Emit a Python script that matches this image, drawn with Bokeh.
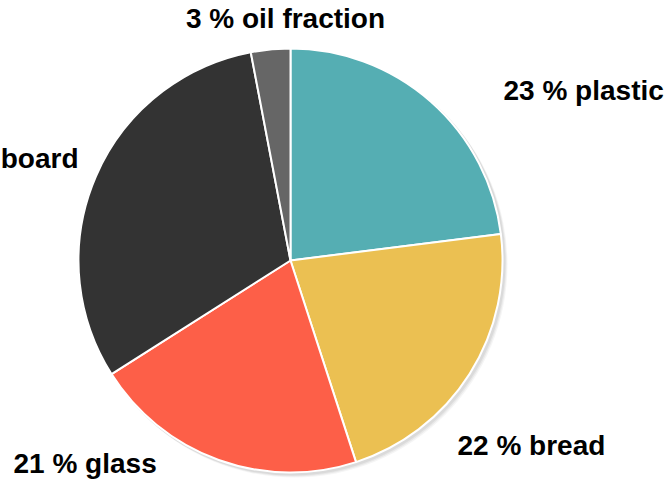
import math
from bokeh.plotting import figure
from bokeh.models import Range1d, ColumnDataSource
from bokeh.core.properties import value
from bokeh.embed import file_html
from bokeh.resources import INLINE

# ---- data ----
categories = ["plastic", "bread", "glass", "cardboard", "oil fraction"]
shares = [23, 22, 21, 31, 3]
colors = ["#55AEB3", "#EBC052", "#FD5F48", "#333333", "#666666"]

# ---- layout (pixels) ----
W, H = 671, 484
CX, CY = 290, 224          # pie centre in plot units (1 unit = 1 px)
R = 212
# label anchor offsets from the pie centre and alignment
label_dx = [213, 167, -277, -212, -5]
label_dy = [170, -185, -203, 102, 242]
label_align = ["left", "left", "left", "right", "center"]

total = float(sum(shares))
starts, ends = [], []
cum = 0.0
for s in shares:
    c0 = cum / total
    cum += s
    c1 = cum / total
    # clockwise from 12 o'clock -> anticlockwise wedge from end to start
    starts.append(math.radians(90 - 360 * c1))
    ends.append(math.radians(90 - 360 * c0))

src = ColumnDataSource(dict(
    x=[CX] * len(shares), y=[CY] * len(shares),
    start=starts, end=ends, color=colors,
))

labels = [f"{s} % {c}" for s, c in zip(shares, categories)]
lsrc = ColumnDataSource(dict(
    x=[CX + d for d in label_dx], y=[CY + d for d in label_dy],
    text=labels, align=label_align,
))

p = figure(width=W, height=H, output_backend="svg", toolbar_location=None,
           x_range=Range1d(0, W), y_range=Range1d(0, H),
           x_axis_location=None, y_axis_location=None,
           min_border=0, outline_line_color=None,
           background_fill_color="white", border_fill_color="white")
p.grid.visible = False

# soft shadow
for off, a in [(4, 0.04), (3, 0.05), (2, 0.06)]:
    p.circle(x=[CX + off], y=[CY - off], radius=R + 1, fill_color="black",
             fill_alpha=a, line_color=None)

p.wedge(x="x", y="y", radius=R, start_angle="start", end_angle="end",
        fill_color="color", line_color="white", line_width=2, source=src)

p.text(x="x", y="y", text="text", text_align="align", text_baseline="alphabetic",
       text_font=value("Liberation Sans"), text_font_style="bold",
       text_font_size="28px", text_color="black", source=lsrc)

open("out.html", "w").write(file_html(p, INLINE))
